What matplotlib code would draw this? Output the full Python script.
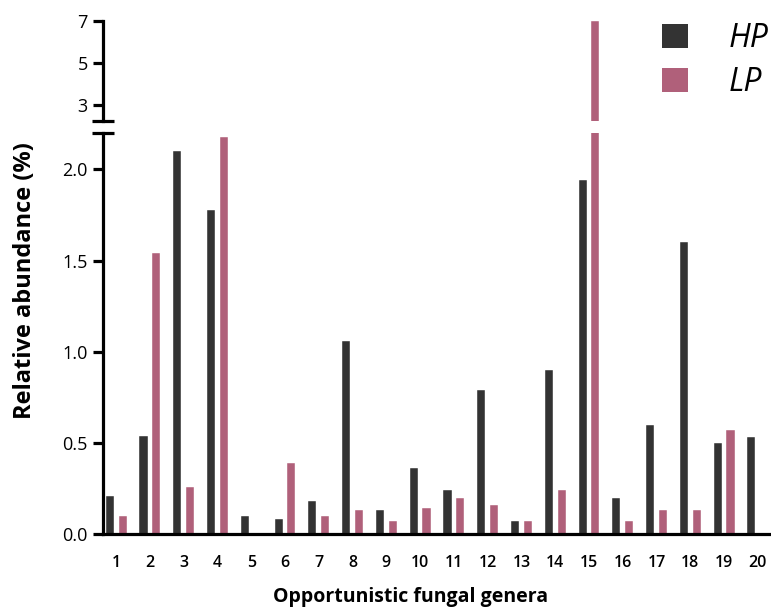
import numpy as np
import matplotlib as mpl
import matplotlib.pyplot as plt
from matplotlib.patches import Patch

mpl.rc('font', family=['Open Sans', 'DejaVu Sans'])

genera = [str(i) for i in range(1, 21)]
hp = [0.21, 0.54, 2.10, 1.78, 0.10, 0.08, 0.18, 1.06, 0.13, 0.36,
      0.24, 0.79, 0.07, 0.90, 1.94, 0.20, 0.60, 1.60, 0.50, 0.53]
lp = [0.10, 1.54, 0.26, 2.18, 0.00, 0.39, 0.10, 0.13, 0.07, 0.14,
      0.20, 0.16, 0.07, 0.24, 7.00, 0.07, 0.13, 0.13, 0.57, 0.00]

hp_color = '#333333'
lp_color = '#b0607a'

fig = plt.figure(figsize=(7.71, 6.09), dpi=100)
ax_lo = fig.add_axes([103 / 771, 75 / 609, 668 / 771, 401 / 609])
ax_hi = fig.add_axes([103 / 771, 488 / 609, 668 / 771, 100 / 609], sharex=ax_lo)

x = np.arange(1, len(genera) + 1)
w = 0.24
off = 0.19
for ax in (ax_lo, ax_hi):
    ax.bar(x - off, hp, w, color=hp_color, edgecolor='white', linewidth=0.3)
    ax.bar(x + off, lp, w, color=lp_color, edgecolor='white', linewidth=0.3)
    for s in ('top', 'right'):
        ax.spines[s].set_visible(False)
    ax.spines['left'].set_linewidth(2.3)
    ax.tick_params(axis='y', length=7, width=2.3, labelsize=13, pad=4)

ax_lo.set_xlim(0.61, 20.39)
ax_lo.set_ylim(0, 2.2)
ax_lo.set_yticks([0.0, 0.5, 1.0, 1.5, 2.0])
ax_lo.set_yticklabels(['0.0', '0.5', '1.0', '1.5', '2.0'])
ax_lo.spines['bottom'].set_linewidth(2.3)
ax_lo.set_xticks(x)
ax_lo.set_xticklabels(genera, fontsize=11.5, fontweight='semibold')
ax_lo.tick_params(axis='x', length=0, pad=15)

ax_hi.set_ylim(2.25, 7)
ax_hi.set_yticks([3, 5, 7])
ax_hi.spines['bottom'].set_visible(False)
ax_hi.tick_params(axis='x', which='both', bottom=False, labelbottom=False)

# break caps on the y axis
cap = 11 / 668
ax_hi.plot([-cap, cap], [0, 0], transform=ax_hi.transAxes, color='black',
           lw=2.3, clip_on=False, solid_capstyle='butt')
ax_lo.plot([-cap, cap], [1, 1], transform=ax_lo.transAxes, color='black',
           lw=2.3, clip_on=False, solid_capstyle='butt')

fig.text(411 / 771, 7 / 609, 'Opportunistic fungal genera', fontsize=14,
         fontweight='bold', ha='center', va='baseline')
fig.text(25 / 771, 1 - 281 / 609, 'Relative abundance (%)', rotation=90,
         fontsize=17, fontweight='bold', ha='center', va='center')

handles = [Patch(facecolor=hp_color, label='HP'),
           Patch(facecolor=lp_color, label='LP')]
leg = fig.legend(handles=handles, loc='upper right',
                 bbox_to_anchor=(1.017, 0.99), borderaxespad=0.1,
                 frameon=False, prop={'size': 23, 'style': 'italic'},
                 handlelength=0.81, handleheight=0.81, handletextpad=1.25,
                 labelspacing=0.35)

fig.savefig('out.png', dpi=100)
